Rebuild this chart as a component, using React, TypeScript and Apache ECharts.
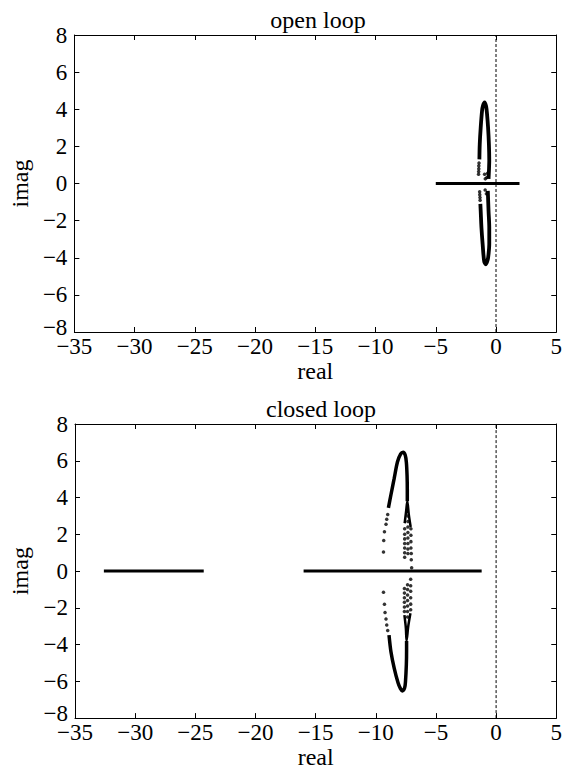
import React, { useEffect, useRef } from "react";
import * as echarts from "echarts";

// ---------- data ----------
// open loop
const openRealAxis = [[-5.0, 0], [1.95, 0]];
const openUpperLobe = [
  [-0.62, 0.25], [-0.58, 0.8], [-0.56, 1.22], [-0.59, 2.12], [-0.66, 3.02], [-0.74, 3.7],
  [-0.82, 4.15], [-0.95, 4.37], [-1.08, 4.2], [-1.16, 3.91], [-1.27, 3.02], [-1.35, 2.12], [-1.38, 1.3],
];
const openUpperDots = [
  [-1.41, 1.1], [-1.43, 0.95], [-1.43, 0.8], [-1.44, 0.65], [-1.45, 0.5],
  [-0.95, 0.5], [-0.89, 0.25], [-0.76, 0.32], [-0.7, 0.55],
];
const openLowerLobe = [
  [-0.68, -0.4], [-0.62, -1.48], [-0.56, -2.37], [-0.56, -3.27], [-0.62, -3.8], [-0.68, -4.08],
  [-0.84, -4.35], [-0.98, -4.2], [-1.11, -3.27], [-1.21, -2.37], [-1.27, -1.5], [-1.3, -1.1],
];
const openLowerDots = [
  [-1.32, -0.9], [-1.33, -0.75], [-1.35, -0.6], [-1.36, -0.45], [-0.9, -0.35], [-0.8, -0.55],
];

// closed loop
const closedRealAxisA = [[-32.6, 0], [-24.3, 0]];
const closedRealAxisB = [[-16.0, 0], [-1.2, 0]];
const closedUpperLoop = [
  [-8.95, 3.44], [-8.74, 4.15], [-8.47, 5.04], [-8.2, 5.93], [-7.93, 6.37], [-7.73, 6.46],
  [-7.55, 6.3], [-7.46, 5.93], [-7.4, 5.2], [-7.38, 4.4], [-7.38, 3.8],
];
const closedUpperWedge = [[-7.6, 2.6], [-7.47, 3.3], [-7.38, 3.8], [-7.26, 3.1], [-7.1, 2.4]];
const closedUpperDots = [
  [-9.36, 1.04], [-9.34, 1.66], [-9.28, 2.14], [-9.15, 2.55], [-9.09, 2.82], [-9.01, 3.08],
  [-7.6, 2.3], [-7.6, 2.0], [-7.6, 1.75], [-7.6, 1.5], [-7.6, 1.25], [-7.6, 1.0], [-7.6, 0.75],
  [-7.33, 3.0], [-7.33, 2.7], [-7.33, 2.4], [-7.33, 2.1], [-7.33, 1.8], [-7.33, 1.5], [-7.33, 1.2], [-7.33, 0.95],
  [-7.08, 2.3], [-7.08, 1.95], [-7.08, 1.6], [-7.08, 1.25], [-7.05, 0.95], [-7.05, 0.62], [-7.02, 0.18],
];
const closedLowerLoop = [
  [-8.9, -3.49], [-8.74, -4.39], [-8.47, -5.28], [-8.15, -6.08], [-7.95, -6.4], [-7.79, -6.52],
  [-7.6, -6.35], [-7.53, -6.0], [-7.46, -5.1], [-7.44, -4.3], [-7.44, -3.8],
];
const closedLowerWedge = [[-7.62, -2.4], [-7.5, -3.1], [-7.44, -3.8], [-7.3, -3.0], [-7.12, -2.3]];
const closedLowerDots = [
  [-9.36, -1.15], [-9.28, -1.81], [-9.23, -2.26], [-9.15, -2.61], [-9.09, -2.93], [-9.01, -3.23],
  [-7.62, -0.95], [-7.62, -1.2], [-7.62, -1.45], [-7.62, -1.7], [-7.62, -1.95], [-7.62, -2.2],
  [-7.36, -0.75], [-7.36, -1.0], [-7.36, -1.3], [-7.36, -1.6], [-7.36, -1.9], [-7.36, -2.2], [-7.36, -2.5],
  [-7.1, -0.45], [-7.1, -0.8], [-7.1, -1.1], [-7.1, -1.45], [-7.1, -1.8], [-7.1, -2.1],
];

const zeroLine = [[0, -8], [0, 8]];
const titles = ["open loop", "closed loop"];
const xName = "real";
const yName = "imag";

const FONT = "'Liberation Serif', 'Times New Roman', serif";
const TICK_SIZE = 23;
const fmtX = (v: number) => String(v).replace("-", "\u2212");
const fmtY = (v: number) => (v === -8 ? "{lo|\u22128}" : `{n|${String(v).replace("-", "\u2212")}}`);

export default function App() {
  const ref = useRef<HTMLDivElement>(null);
  useEffect(() => {
    if (!ref.current) return;
    const chart = echarts.init(ref.current, undefined, { renderer: "svg" });

    const grids = [
      { left: 68, top: 35, width: 491, height: 297 },
      { left: 71, top: 424, width: 491, height: 300 },
    ];
    const xAxes: any[] = [];
    const yAxes: any[] = [];
    grids.forEach((g, i) => {
      const common = {
        gridIndex: i,
        type: "value",
        axisLine: { show: true, onZero: false, lineStyle: { color: "#000", width: 1 } },
        axisTick: { show: true, inside: true, length: 5, lineStyle: { color: "#000" } },
        splitLine: { show: false },
      };
      xAxes.push({
        ...common,
        position: "bottom",
        min: -35, max: 5, interval: 5,
        axisLabel: { color: "#000", fontFamily: FONT, fontSize: TICK_SIZE, margin: 3, formatter: fmtX },
        name: xName, nameLocation: "middle", nameGap: 26,
        nameTextStyle: { color: "#000", fontFamily: FONT, fontSize: 24 },
      });
      xAxes.push({
        ...common,
        position: "top",
        min: -35, max: 5, interval: 5,
        axisLabel: { show: false },
      });
      yAxes.push({
        ...common,
        position: "left",
        min: -8, max: 8, interval: 2,
        axisLabel: {
          color: "#000", fontFamily: FONT, fontSize: TICK_SIZE, margin: 7, formatter: fmtY,
          rich: {
            n: { color: "#000", fontFamily: FONT, fontSize: TICK_SIZE },
            lo: { color: "#000", fontFamily: FONT, fontSize: TICK_SIZE, padding: [0, 0, 10, 0] },
          },
        },
        name: yName, nameLocation: "middle", nameGap: i === 0 ? 40 : 43,
        nameTextStyle: { color: "#000", fontFamily: FONT, fontSize: 24 },
      });
      yAxes.push({
        ...common,
        position: "right",
        min: -8, max: 8, interval: 2,
        axisLabel: { show: false },
      });
    });

    const lineS = (data: number[][], gi: number, width = 3) => ({
      type: "line",
      xAxisIndex: gi * 2,
      yAxisIndex: gi * 2,
      data,
      showSymbol: false,
      smooth: 0.3,
      lineStyle: { color: "#000", width },
      silent: true,
    });
    const dotS = (data: number[][], gi: number) => ({
      type: "scatter",
      xAxisIndex: gi * 2,
      yAxisIndex: gi * 2,
      data,
      symbol: "circle",
      symbolSize: 3.5,
      itemStyle: { color: "#000" },
      silent: true,
    });
    const dashS = (gi: number) => ({
      type: "line",
      xAxisIndex: gi * 2,
      yAxisIndex: gi * 2,
      data: zeroLine,
      showSymbol: false,
      lineStyle: { color: "#000", width: 1, type: [3, 2] },
      silent: true,
    });

    chart.setOption({
      animation: false,
      backgroundColor: "#fff",
      textStyle: { fontFamily: FONT, color: "#000" },
      title: [
        {
          text: titles[0], left: 313, top: 3, textAlign: "center",
          textStyle: { color: "#000", fontFamily: FONT, fontSize: 24, fontWeight: "normal" },
        },
        {
          text: titles[1], left: 316, top: 392, textAlign: "center",
          textStyle: { color: "#000", fontFamily: FONT, fontSize: 24, fontWeight: "normal" },
        },
      ],
      grid: grids,
      xAxis: xAxes,
      yAxis: yAxes,
      series: [
        dashS(0),
        lineS(openRealAxis, 0, 3),
        lineS(openUpperLobe, 0, 3.8),
        lineS(openLowerLobe, 0, 3.8),
        dotS(openUpperDots, 0),
        dotS(openLowerDots, 0),
        dashS(1),
        lineS(closedRealAxisA, 1, 3),
        lineS(closedRealAxisB, 1, 3),
        lineS(closedUpperLoop, 1, 3.5),
        lineS(closedUpperWedge, 1, 2.5),
        lineS(closedLowerLoop, 1, 3.5),
        lineS(closedLowerWedge, 1, 2.5),
        dotS(closedUpperDots, 1),
        dotS(closedLowerDots, 1),
      ],
    });
    return () => chart.dispose();
  }, []);
  return (
    <div
      ref={ref}
      style={{ position: "fixed", left: 0, top: 0, width: 565, height: 770, background: "#fff" }}
    />
  );
}
